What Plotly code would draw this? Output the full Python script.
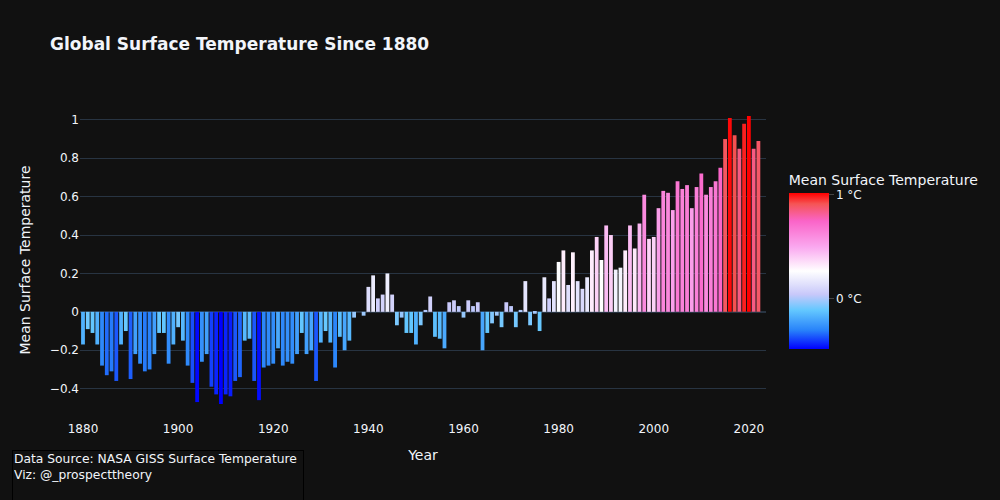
import plotly.graph_objects as go

# GISTEMP annual mean anomalies (deg C)
YEARS = list(range(1880, 2023))
TEMPS = [
    -0.17, -0.09, -0.11, -0.17, -0.28, -0.33, -0.31, -0.36, -0.17, -0.10,
    -0.35, -0.22, -0.27, -0.31, -0.30, -0.22, -0.11, -0.11, -0.27, -0.17,
    -0.08, -0.15, -0.28, -0.37, -0.47, -0.26, -0.22, -0.39, -0.43, -0.48,
    -0.43, -0.44, -0.36, -0.34, -0.15, -0.14, -0.36, -0.46, -0.29, -0.28,
    -0.27, -0.19, -0.28, -0.26, -0.27, -0.22, -0.11, -0.22, -0.20, -0.36,
    -0.16, -0.10, -0.16, -0.29, -0.13, -0.20, -0.15, -0.03, 0.00, -0.02,
    0.13, 0.19, 0.07, 0.09, 0.20, 0.09, -0.07, -0.03, -0.11, -0.11,
    -0.17, -0.07, 0.01, 0.08, -0.13, -0.14, -0.19, 0.05, 0.06, 0.03,
    -0.03, 0.06, 0.03, 0.05, -0.20, -0.11, -0.06, -0.02, -0.08, 0.05,
    0.03, -0.08, 0.01, 0.16, -0.07, -0.01, -0.10, 0.18, 0.07, 0.16,
    0.26, 0.32, 0.14, 0.31, 0.16, 0.12, 0.18, 0.32, 0.39, 0.27,
    0.45, 0.40, 0.22, 0.23, 0.32, 0.45, 0.33, 0.46, 0.61, 0.38,
    0.39, 0.54, 0.63, 0.62, 0.53, 0.68, 0.64, 0.66, 0.54, 0.65,
    0.72, 0.61, 0.65, 0.68, 0.75, 0.90, 1.01, 0.92, 0.85, 0.98,
    1.02, 0.85, 0.89,
]

COLORSCALE = [
    [0.0, "rgb(0,0,255)"],
    [0.12, "rgb(40,130,250)"],
    [0.25, "rgb(100,200,255)"],
    [0.35, "rgb(200,200,250)"],
    [0.5, "rgb(255,255,255)"],
    [0.65, "rgb(250,170,240)"],
    [0.82, "rgb(250,100,200)"],
    [0.93, "rgb(245,85,85)"],
    [1.0, "rgb(255,0,0)"],
]

fig = go.Figure()
fig.add_trace(
    go.Bar(
        x=YEARS,
        y=TEMPS,
        marker=dict(
            color=TEMPS,
            colorscale=COLORSCALE,
            line=dict(width=0),
            colorbar=dict(
                title=dict(text="Mean Surface Temperature", side="top"),
                tickvals=[0, 1],
                ticktext=["0 °C", "1 °C"],
                len=0.615,
                y=0.5,
                thickness=40,
                outlinewidth=0,
                ticks="outside",
                ticklen=5,
            ),
        ),
    )
)

fig.update_layout(
    template="plotly_dark",
    width=1000,
    height=500,
    font=dict(family="Verdana, DejaVu Sans, sans-serif"),
    title=dict(text="<b>Global Surface Temperature Since 1880</b>", font=dict(size=17)),
    xaxis_title="Year",
    yaxis_title="Mean Surface Temperature",
    annotations=[
        dict(
            text="Data Source: NASA GISS Surface Temperature<br>Viz: @_prospecttheory",
            xref="paper",
            yref="paper",
            x=-0.099,
            y=-0.095,
            xanchor="left",
            yanchor="top",
            align="left",
            valign="top",
            showarrow=False,
            bordercolor="black",
            borderwidth=1,
            width=288,
            height=70,
            font=dict(size=12.3),
        )
    ],
)
fig.update_xaxes(range=[1879.37, 2023.6])

fig.write_html(
    "out.html",
    config={"displayModeBar": False},
    post_script="document.body.style.margin='0';",
)
